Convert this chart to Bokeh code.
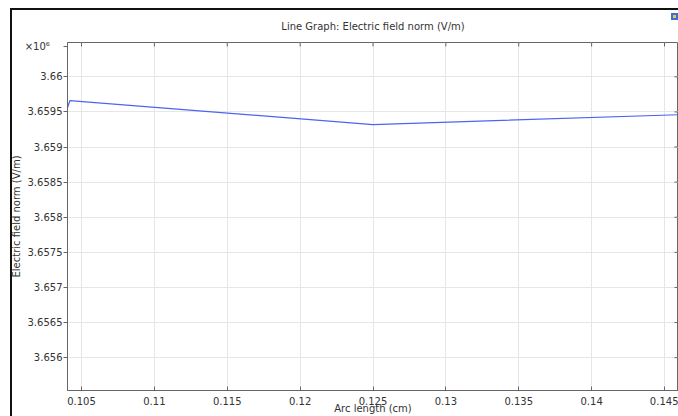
from bokeh.plotting import figure
from bokeh.models import Range1d, FixedTicker
from bokeh.embed import file_html
from bokeh.resources import INLINE
import math

# Data (values in units of 1e6 V/m, as on the axis)
arc_length_cm = [0.10404, 0.10420, 0.125, 0.14596]
efield_norm_e6 = [3.65956, 3.65966, 3.65932, 3.65946]

x_ticks = [0.105, 0.11, 0.115, 0.12, 0.125, 0.13, 0.135, 0.14, 0.145]
y_ticks = [3.656, 3.6565, 3.657, 3.6575, 3.658, 3.6585, 3.659, 3.6595, 3.66]

title_text = "Line Graph: Electric field norm (V/m)"
x_label = "Arc length (cm)"
y_label = "Electric field norm (V/m)"
scale_label = "\u00d710\u2076"

FONT = "DejaVu Sans"
TXT = "#333333"

W, H = 678, 416
FL, FT, FB = 67, 42, 391  # frame left / top / bottom in canvas px
x0, x1 = 0.104039, 0.145961
y0, y1 = 3.655532, 3.660489
scale_pos = y1 - 4 * (y1 - y0) / (FB - FT)  # place the multiplier just below the frame top

p = figure(width=W, height=H, output_backend="svg", toolbar_location=None,
           x_range=Range1d(x0, x1), y_range=Range1d(y0, y1),
           min_border_left=FL, min_border_right=0, min_border_top=FT,
           min_border_bottom=H - FB)
p.background_fill_color = "white"
p.border_fill_color = None
p.outline_line_color = "#666666"
p.outline_line_width = 1
p.styles = {
    "background": ("linear-gradient(#f2c14a,#f2c14a) 673px 15px / 3px 3px no-repeat, "
                   "linear-gradient(#3b6fd6,#3b6fd6) 671px 13px / 7px 7px no-repeat, "
                   "linear-gradient(#111,#111) 10px 8px / 2px 100% no-repeat, "
                   "linear-gradient(#111,#111) 10px 8px / 100% 2px no-repeat, white"),
}

p.title.text = title_text
p.title.align = "center"
p.title.text_font = FONT
p.title.text_font_size = "10px"
p.title.text_font_style = "normal"
p.title.text_color = TXT
p.title.standoff = 22

p.line(arc_length_cm, efield_norm_e6, line_color="#4f62f2", line_width=1.2)

# inward tick marks along top and right frame edges
p.scatter(x_ticks, [y1] * len(x_ticks), marker="dash", angle=math.pi / 2, size=8,
          line_color="#666666", line_width=1)
p.scatter([x1] * len(y_ticks), y_ticks, marker="dash", size=8,
          line_color="#666666", line_width=1)

# axes
xa = p.xaxis[0]
xa.ticker = FixedTicker(ticks=x_ticks)
xa.major_tick_in = 4
xa.major_tick_out = 0
xa.minor_tick_line_color = None
xa.major_label_standoff = 6
xa.axis_line_color = "#666666"
xa.major_tick_line_color = "#666666"
xa.major_label_text_font = FONT
xa.major_label_text_font_size = "10px"
xa.major_label_text_color = TXT
xa.axis_label = x_label
xa.axis_label_text_font = FONT
xa.axis_label_text_font_size = "10px"
xa.axis_label_text_font_style = "normal"
xa.axis_label_text_color = TXT
xa.axis_label_standoff = -5

ya = p.yaxis[0]
ya.ticker = FixedTicker(ticks=y_ticks + [scale_pos])
ya.major_label_overrides = {scale_pos: scale_label + "\u00a0" * 4}
ya.major_tick_in = 0
ya.major_tick_out = 4
ya.minor_tick_line_color = None
ya.major_label_standoff = 1
ya.axis_line_color = "#666666"
ya.major_tick_line_color = "#666666"
ya.major_label_text_font = FONT
ya.major_label_text_font_size = "10px"
ya.major_label_text_color = TXT
ya.axis_label = y_label
ya.axis_label_text_font = FONT
ya.axis_label_text_font_size = "10px"
ya.axis_label_text_font_style = "normal"
ya.axis_label_text_color = TXT
ya.axis_label_standoff = 0

p.xgrid.grid_line_color = "#e6e6e6"
p.ygrid.grid_line_color = "#e6e6e6"
p.xgrid.ticker = FixedTicker(ticks=x_ticks)
p.ygrid.ticker = FixedTicker(ticks=y_ticks)

open("out.html", "w").write(file_html(p, INLINE))
